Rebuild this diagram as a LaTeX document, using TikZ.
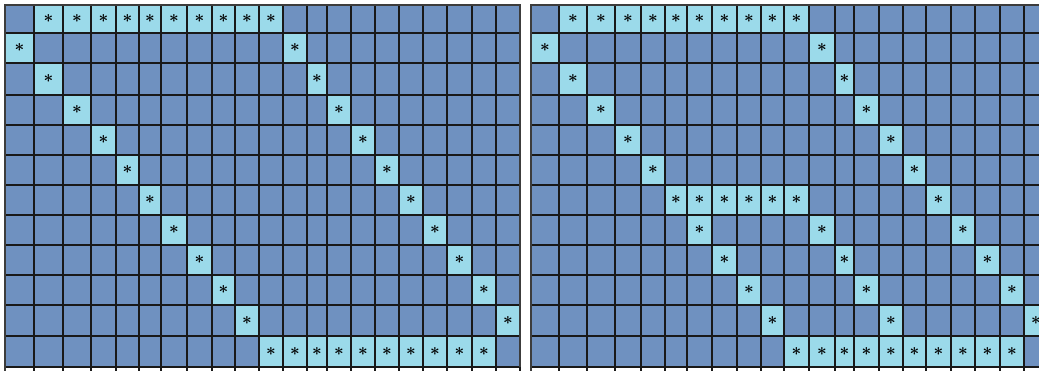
\documentclass[tikz,border=0pt]{standalone}
\definecolor{cdark}{HTML}{6F91C0}
\definecolor{clit}{HTML}{9BDAEA}
\definecolor{cedge}{HTML}{3C3C3C}
\tikzset{
  every picture/.style={x=0.03cm, y=-0.03cm},
  seat/.style={inner sep=0pt, font=\Large\boldmath},
  rule/.style={line width=1.1pt, black!90},
  frame/.style={line width=1.8pt, cedge},
}
\def\ys{{5,33,63,95,125,155,185,215,245,275,305,336,367}}
\def\xl{{5,34,63,91,116,139,161,187,212,235,259,283,307,327,351,375,399,423,447,472,496,520}}
\def\xr{{531,559,587,615,641,665,687,712,737,761,784,809,835,854,879,903,926,951,975,1000,1024,1048}}
\newcommand{\gridfill}[1]{% dark ground of one grid
  \pgfmathsetmacro{\xa}{#1[0]}\pgfmathsetmacro{\xb}{#1[21]}
  \fill[cdark] (\xa,5) rectangle (\xb,367);
}
\newcommand{\seatcell}[4]{% lit cell, column #3, row #4
  \pgfmathsetmacro{\xa}{#1[#3]}\pgfmathsetmacro{\xb}{#1[#3+1]}
  \pgfmathsetmacro{\ya}{\ys[#4]}\pgfmathsetmacro{\yb}{\ys[#4+1]}
  \fill[clit] (\xa,\ya) rectangle (\xb,\yb);
  \node[seat] (#2-#3-#4) at ({(\xa+\xb)/2},{(\ya+\yb)/2}) {$\ast$};
}
\newcommand{\gridrules}[1]{% rules and frame of one grid
  \pgfmathsetmacro{\xa}{#1[0]}\pgfmathsetmacro{\xb}{#1[21]}
  \foreach \i in {0,...,21} {\pgfmathsetmacro{\xx}{#1[\i]}\draw[rule] (\xx,5) -- (\xx,371);}
  \foreach \j in {0,...,12} {\pgfmathsetmacro{\yy}{\ys[\j]}\draw[rule] (\xa,\yy) -- (\xb,\yy);}
  \draw[frame] (\xa,371) -- (\xa,5) -- (\xb,5) -- (\xb,367);
}

\begin{document}
\begin{tikzpicture}
  \path[use as bounding box] (0,0) rectangle (1039,371);
  \clip (0,0) rectangle (1039,371);
  % left grid
  \gridfill{\xl}
  \foreach \c in {1,...,10} {\seatcell{\xl}{L}{\c}{0}}
  \foreach \r [evaluate=\r as \cA using int(\r-1), evaluate=\r as \cB using int(\r+10)] in {1,...,10}
    {\seatcell{\xl}{L}{\cA}{\r}\seatcell{\xl}{L}{\cB}{\r}}
  \foreach \c in {10,...,19} {\seatcell{\xl}{L}{\c}{11}}
  \gridrules{\xl}
  % right grid
  \gridfill{\xr}
  \foreach \c in {1,...,10} {\seatcell{\xr}{R}{\c}{0}}
  \foreach \r [evaluate=\r as \cA using int(\r-1), evaluate=\r as \cB using int(\r+10)] in {1,...,5}
    {\seatcell{\xr}{R}{\cA}{\r}\seatcell{\xr}{R}{\cB}{\r}}
  \foreach \c in {5,...,10,16} {\seatcell{\xr}{R}{\c}{6}}
  \foreach \r [evaluate=\r as \cA using int(\r-1), evaluate=\r as \cM using int(\r+4),
    evaluate=\r as \cB using int(\r+10)] in {7,...,10}
    {\seatcell{\xr}{R}{\cA}{\r}\seatcell{\xr}{R}{\cM}{\r}\seatcell{\xr}{R}{\cB}{\r}}
  \foreach \c in {10,...,19} {\seatcell{\xr}{R}{\c}{11}}
  \gridrules{\xr}
\end{tikzpicture}
\end{document}
